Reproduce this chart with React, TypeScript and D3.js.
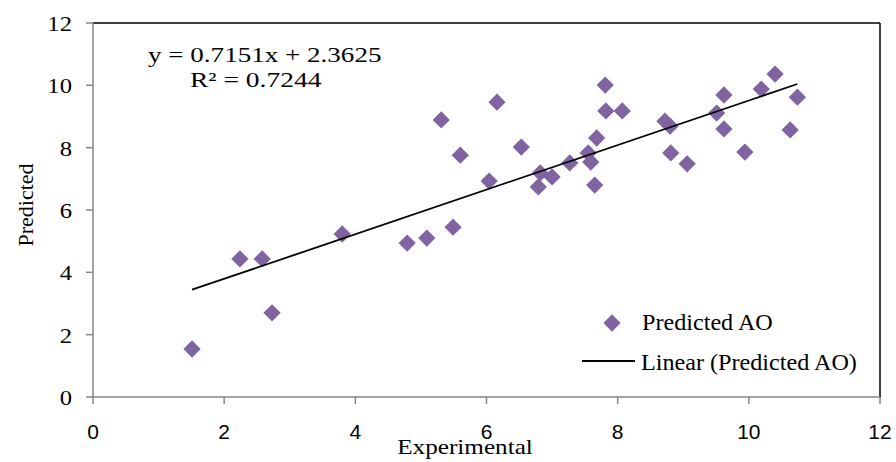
import * as d3 from "d3";

const experimental = [
  1.51, 2.24, 2.58, 2.73, 3.8, 4.79, 5.09, 5.49, 5.31, 5.6, 6.04, 6.16, 6.53, 6.79, 6.82, 7.0, 7.27, 7.55,
  7.59, 7.65, 7.68, 7.81, 7.82, 8.07, 8.72, 8.8, 8.81, 9.06, 9.51, 9.62, 9.62, 9.94, 10.19, 10.4, 10.63, 10.74,
];
const predicted = [
  1.54, 4.43, 4.43, 2.7, 5.23, 4.94, 5.1, 5.45, 8.89, 7.76, 6.93, 9.46, 8.02, 6.74, 7.19, 7.06, 7.51, 7.83,
  7.54, 6.8, 8.31, 10.01, 9.18, 9.18, 8.85, 8.69, 7.83, 7.48, 9.11, 8.6, 9.69, 7.86, 9.88, 10.36, 8.57, 9.62,
];
const xTicks = [0, 2, 4, 6, 8, 10, 12];
const yTicks = [0, 2, 4, 6, 8, 10, 12];
const slope = 0.7151;
const intercept = 2.3625;
const equationText = "y = 0.7151x + 2.3625";
const r2Text = "R² = 0.7244";
const seriesName = "Predicted AO";
const trendName = "Linear (Predicted AO)";

const W = 896;
const H = 462;
const left = 93;
const right = 880;
const top = 23;
const bottom = 397;
const purple = "#8064A2";
const axisGray = "#868686";
const serif = "'Liberation Serif', 'Times New Roman', serif";
const sans = "'Liberation Sans', Arial, sans-serif";

// text stretched horizontally like the source image
function T(props: {
  x: number;
  y: number;
  size: number;
  sx?: number;
  anchor?: "start" | "middle" | "end";
  family?: string;
  children: any;
}) {
  const { x, y, size, sx = 1, anchor = "start", family = serif, children } = props;
  return (
    <text
      transform={`translate(${x},${y}) scale(${sx},1)`}
      textAnchor={anchor}
      fontFamily={family}
      fontSize={size}
    >
      {children}
    </text>
  );
}

export default function App() {
  const x = d3.scaleLinear().domain([0, 12]).range([left, right]);
  const y = d3.scaleLinear().domain([0, 12]).range([bottom, top]);

  const pts = experimental.map((e, i) => ({ e, p: predicted[i] }));
  const [xMin, xMax] = d3.extent(experimental) as [number, number];
  const trend = d3.line<number>()
    .x((d) => x(d))
    .y((d) => y(slope * d + intercept))([xMin, xMax]);

  const diamond = d3.symbol().type(d3.symbolDiamond2).size(190)();

  return (
    <svg width={W} height={H} style={{ position: "absolute", left: 0, top: 0 }}>
      <rect width={W} height={H} fill="#fff" />
      {/* frame */}
      <line x1={left} x2={right} y1={top} y2={top} stroke="#000" strokeWidth={1.5} />
      <line x1={right} x2={right} y1={top} y2={bottom} stroke="#000" strokeWidth={1.5} />
      <line x1={left} x2={left} y1={top} y2={bottom} stroke={axisGray} strokeWidth={1.5} />
      <line x1={left} x2={right} y1={bottom} y2={bottom} stroke={axisGray} strokeWidth={1.5} />

      {xTicks.map((t) => (
        <g key={"x" + t}>
          <line x1={x(t)} x2={x(t)} y1={bottom} y2={bottom + 7} stroke={axisGray} strokeWidth={1.5} />
          <T x={x(t)} y={439} size={21} anchor="middle" family={sans}>
            {t}
          </T>
        </g>
      ))}
      {yTicks.map((t) => (
        <g key={"y" + t}>
          <line x1={left - 7} x2={left} y1={y(t)} y2={y(t)} stroke={axisGray} strokeWidth={1.5} />
          <T x={72} y={y(t) + 8} size={22} sx={1.12} anchor="end">
            {t}
          </T>
        </g>
      ))}

      {pts.map((d, i) => (
        <path key={i} d={diamond ?? ""} transform={`translate(${x(d.e)},${y(d.p)})`} fill={purple} />
      ))}
      <path d={trend ?? ""} fill="none" stroke="#000" strokeWidth={1.8} />

      <T x={148} y={62} size={22} sx={1.23}>
        {equationText}
      </T>
      <T x={190} y={87} size={22} sx={1.25}>
        {r2Text}
      </T>

      {/* legend */}
      <path d={diamond ?? ""} transform="translate(612,323)" fill={purple} />
      <T x={642} y={330} size={23} sx={1.05}>
        {seriesName}
      </T>
      <line x1={582} x2={635} y1={361} y2={361} stroke="#000" strokeWidth={1.8} />
      <T x={641} y={370} size={23} sx={1.05}>
        {trendName}
      </T>

      <T x={465} y={454} size={21} sx={1.2} anchor="middle">
        Experimental
      </T>
      <text
        transform="translate(33,205) rotate(-90)"
        textAnchor="middle"
        fontFamily={serif}
        fontSize={22}
      >
        Predicted
      </text>
    </svg>
  );
}
